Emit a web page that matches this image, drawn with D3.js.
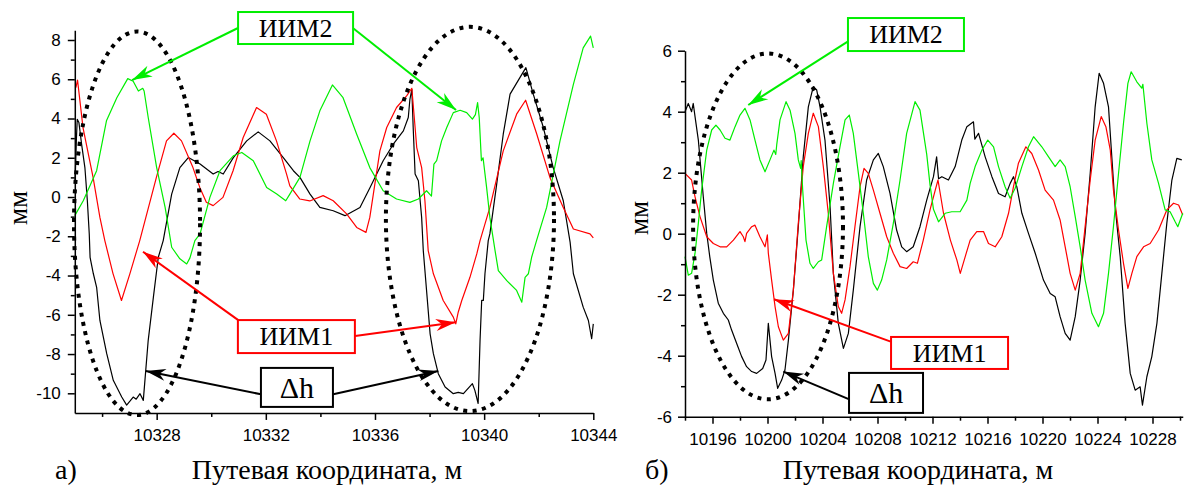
<!DOCTYPE html>
<html>
<head>
<meta charset="utf-8">
<script src="https://cdn.jsdelivr.net/npm/d3@7/dist/d3.min.js"></script>
<style>
  body { margin: 0; background: #fff; }
  svg { display: block; }
  .axis path, .axis line { stroke: #000; stroke-width: 1.5; }
  .axis text { font-family: "Liberation Sans", Arial, sans-serif; font-size: 17px; fill: #000; }
  .serif { font-family: "Liberation Serif", "Times New Roman", serif; fill: #000; }
</style>
</head>
<body>
<svg width="1186" height="486"></svg>
<script>

// ---- panel а) : [x (м), value (мм)] ----
var leftDh = [
  [10325.01, 0.8], [10325.06, 3.0], [10325.09, 3.96], [10325.15, 3.8], [10325.25, 2.68],
  [10325.37, 1.5], [10325.46, -0.19], [10325.53, -1.88], [10325.56, -3.07], [10325.68, -3.91],
  [10325.8, -4.6], [10325.92, -6.29], [10326.17, -7.98], [10326.41, -9.34], [10326.72, -10.19],
  [10326.9, -10.6], [10327.02, -10.4], [10327.14, -10.19], [10327.25, -10.3], [10327.39, -10.02],
  [10327.51, -10.36], [10327.6, -8.83], [10327.69, -7.3], [10327.88, -5.1], [10328.06, -3.07],
  [10328.24, -2.22], [10328.55, 0.15], [10328.85, 1.5], [10329.16, 2.01], [10329.59, 1.68],
  [10330.07, 1.17], [10330.25, 1.3], [10330.44, 1.17], [10330.81, 2.01], [10331.3, 2.86],
  [10331.72, 3.32], [10332.15, 2.86], [10332.64, 2.01], [10333.01, 1.34], [10333.25, 1.0],
  [10333.62, 0.15], [10333.98, -0.53], [10334.47, -0.7], [10334.9, -0.95], [10335.45, -0.53],
  [10335.82, 0.49], [10336.3, 1.85], [10336.67, 2.69], [10337.04, 3.37], [10337.22, 4.05],
  [10337.28, 4.98], [10337.35, 5.49], [10337.4, 3.54], [10337.47, 1.17], [10337.59, 0.83],
  [10337.71, -1.04], [10337.77, -2.73], [10337.89, -4.76], [10338.02, -6.97], [10338.14, -7.98],
  [10338.32, -9.0], [10338.57, -9.68], [10338.87, -10.02], [10339.05, -9.95], [10339.24, -10.02],
  [10339.57, -9.51], [10339.66, -9.85], [10339.78, -10.52], [10339.85, -7.3], [10339.91, -5.27],
  [10339.97, -5.27], [10340.03, -3.91], [10340.15, -2.22], [10340.21, -1.88], [10340.46, 0.66],
  [10340.7, 3.2], [10340.95, 5.24], [10341.31, 6.08], [10341.53, 6.59], [10341.8, 5.24],
  [10342.17, 3.54], [10342.53, 1.5], [10342.9, -0.19], [10343.15, -2.3], [10343.27, -3.91],
  [10343.63, -5.61], [10343.82, -6.29], [10343.94, -7.22], [10344.0, -6.46]
];

var leftImm1 = [
  [10325.04, 5.57], [10325.1, 5.96], [10325.3, 3.54], [10325.67, 1.0], [10325.92, -1.04],
  [10326.1, -2.22], [10326.4, -3.9], [10326.71, -5.27], [10327.02, -3.9], [10327.38, -2.22],
  [10327.99, 1.0], [10328.36, 2.86], [10328.63, 3.25], [10328.91, 2.86], [10329.33, 1.5],
  [10329.58, 0.49], [10329.82, -0.27], [10330.07, -0.44], [10330.43, -0.02], [10330.8, 1.34],
  [10331.17, 3.03], [10331.66, 4.56], [10332.02, 4.22], [10332.39, 2.86], [10332.76, 1.17],
  [10332.88, 0.57], [10333.24, -0.1], [10333.61, -0.2], [10334.1, 0.07], [10334.47, -0.19],
  [10334.96, -0.86], [10335.33, -1.55], [10335.67, -1.8], [10335.81, -1.04], [10335.94, 0.15],
  [10336.18, 2.35], [10336.43, 3.54], [10336.79, 4.56], [10337.16, 5.15], [10337.35, 5.54],
  [10337.47, 3.54], [10337.53, 2.52], [10337.71, 1.5], [10337.83, -0.19], [10337.95, -2.73],
  [10338.14, -3.91], [10338.5, -5.27], [10338.87, -6.12], [10338.96, -6.46], [10339.05, -5.87],
  [10339.18, -5.27], [10339.48, -4.09], [10339.73, -2.9], [10339.85, -2.22], [10340.21, -0.53],
  [10340.7, 2.35], [10341.19, 4.22], [10341.52, 4.93], [10341.93, 3.2], [10342.41, 1.0],
  [10342.9, -0.53], [10343.27, -1.63], [10343.88, -1.88], [10344.0, -2.08]
];

var leftImm2 = [
  [10325.0, -0.95], [10325.31, -0.19], [10325.8, 1.34], [10326.16, 3.88], [10326.54, 5.06],
  [10326.94, 6.03], [10327.14, 5.9], [10327.33, 5.4], [10327.49, 5.54], [10327.54, 5.4],
  [10327.69, 4.05], [10328.0, 1.5], [10328.31, -0.53], [10328.55, -2.56], [10328.85, -3.15],
  [10329.1, -3.41], [10329.22, -3.1], [10329.4, -2.22], [10329.59, -1.88], [10329.95, -0.02],
  [10330.32, 1.34], [10330.81, 2.1], [10331.12, 2.27], [10331.54, 1.85], [10332.03, 0.49],
  [10332.4, 0.15], [10332.73, -0.19], [10332.88, 0.15], [10333.25, 1.0], [10333.62, 2.86],
  [10333.98, 4.39], [10334.44, 5.71], [10334.83, 5.06], [10335.33, 3.2], [10335.81, 1.5],
  [10336.3, 0.32], [10336.79, -0.1], [10337.28, -0.27], [10337.59, -0.1], [10337.89, 0.32],
  [10338.07, 0.05], [10338.16, 1.68], [10338.26, 1.85], [10338.44, 2.86], [10338.63, 3.54],
  [10338.87, 4.3], [10339.12, 4.42], [10339.36, 4.3], [10339.57, 3.97], [10339.68, 4.2],
  [10339.76, 4.81], [10339.82, 4.05], [10339.9, 1.85], [10339.96, 2.0], [10340.09, 0.49],
  [10340.21, -1.04], [10340.4, -2.73], [10340.52, -3.75], [10340.83, -4.26], [10341.19, -4.76],
  [10341.38, -5.36], [10341.5, -4.09], [10341.62, -3.91], [10341.74, -3.07], [10341.92, -2.22],
  [10342.29, -0.53], [10342.78, 2.86], [10343.27, 5.74], [10343.63, 7.6], [10343.9, 8.2],
  [10344.0, 7.6]
];

// ---- panel б) ----
var rightDh = [
  [10194, 4.0], [10194.24, 4.27], [10194.48, 4.0], [10194.6, 4.27], [10194.73, 3.84],
  [10194.97, 3.07], [10195.14, 2.2], [10195.33, 1.21], [10195.58, 0.01], [10195.8, -0.75],
  [10196.06, -1.52], [10196.42, -2.28], [10196.79, -2.61], [10197.15, -2.83], [10197.39, -3.16],
  [10197.76, -3.6], [10198.12, -4.03], [10198.48, -4.36], [10198.85, -4.52], [10199.21, -4.58],
  [10199.65, -4.42], [10199.89, -4.14], [10200.06, -2.94], [10200.18, -3.49], [10200.3, -4.03],
  [10200.55, -4.58], [10200.74, -5.07], [10201.03, -4.8], [10201.27, -4.47], [10201.52, -3.49],
  [10201.88, -1.85], [10202.24, 0.23], [10202.6, 2.52], [10202.97, 4.16], [10203.33, 4.82],
  [10203.58, 4.71], [10203.82, 4.16], [10204.18, 3.07], [10204.55, 0.89], [10204.79, -1.3],
  [10205.15, -2.94], [10205.52, -3.76], [10205.88, -3.27], [10206.24, -1.85], [10206.73, 0.23],
  [10207.21, 1.76], [10207.7, 2.42], [10208.06, 2.63], [10208.42, 2.2], [10208.91, 1.32],
  [10209.39, 0.12], [10209.76, -0.43], [10210.12, -0.59], [10210.6, -0.43], [10211.09, 0.23],
  [10211.58, 1.1], [10212.07, 1.87], [10212.3, 2.52], [10212.44, 1.8], [10212.68, 1.87],
  [10213.16, 1.76], [10213.65, 2.2], [10214.13, 3.07], [10214.5, 3.51], [10214.98, 3.67],
  [10215.08, 3.1], [10215.35, 3.29], [10215.83, 2.52], [10216.32, 1.87], [10216.8, 1.32],
  [10217.28, 1.21], [10217.65, 1.65], [10217.89, 1.87], [10218.13, 1.54], [10218.5, 0.67],
  [10218.98, 0.01], [10219.47, -0.64], [10220.07, -1.52], [10220.56, -1.96], [10220.92, -2.07],
  [10221.28, -2.72], [10221.65, -3.27], [10222.01, -3.49], [10222.38, -2.72], [10222.74, -1.52],
  [10223.1, 0.01], [10223.47, 1.98], [10223.83, 4.16], [10224.12, 5.26], [10224.44, 4.93],
  [10224.8, 4.16], [10225.04, 2.52], [10225.28, 0.89], [10225.65, -0.75], [10226.01, -2.94],
  [10226.38, -4.58], [10226.74, -5.13], [10227.1, -5.02], [10227.27, -5.62], [10227.59, -4.69],
  [10227.95, -4.03], [10228.32, -2.94], [10228.68, -1.3], [10229.04, 0.34], [10229.41, 1.76],
  [10229.77, 2.47], [10230.13, 2.42]
];

var rightImm1 = [
  [10194, 1.98], [10194.48, 1.76], [10194.73, 1.21], [10195.09, 0.56], [10195.58, -0.1],
  [10196.06, -0.32], [10196.55, -0.43], [10197.03, -0.43], [10197.52, -0.21], [10198, 0.07],
  [10198.24, -0.1], [10198.36, -0.26], [10198.48, 0.01], [10198.85, 0.23], [10199.09, 0.28],
  [10199.45, -0.1], [10199.82, -0.43], [10199.99, -0.04], [10200.06, -0.64], [10200.3, -1.52],
  [10200.55, -2.39], [10200.79, -3.05], [10201.15, -3.49], [10201.52, -3.27], [10201.88, -1.85],
  [10202.24, 0.34], [10202.6, 2.2], [10202.97, 3.29], [10203.33, 3.95], [10203.7, 3.51],
  [10204.06, 2.2], [10204.42, 0.67], [10204.79, -1.3], [10205.15, -2.39], [10205.39, -2.61],
  [10205.64, -2.17], [10206, -1.08], [10206.36, 0.23], [10206.73, 1.54], [10207.02, 2.14],
  [10207.33, 1.98], [10207.7, 1.43], [10208.18, 0.67], [10208.67, -0.1], [10209.15, -0.64],
  [10209.64, -1.08], [10210.12, -1.14], [10210.6, -0.92], [10210.9, -0.97], [10211.33, -0.21],
  [10211.82, 0.78], [10212.2, 1.43], [10212.4, 1.76], [10212.8, 0.67], [10213.3, -0.21],
  [10213.77, -0.86], [10214.02, -1.3], [10214.38, -0.75], [10214.74, -0.21], [10215.22, 0.07],
  [10215.71, 0.07], [10216.07, -0.32], [10216.56, -0.43], [10217.04, -0.1], [10217.53, 0.67],
  [10217.89, 1.54], [10218.25, 2.31], [10218.79, 2.85], [10219.22, 2.63], [10219.71, 2.09],
  [10220.19, 1.43], [10220.8, 1.1], [10221.28, 0.45], [10221.65, -0.43], [10222.01, -1.3],
  [10222.38, -1.85], [10222.74, -1.3], [10223.1, 0.23], [10223.47, 1.76], [10223.83, 3.07],
  [10224.27, 3.84], [10224.61, 3.51], [10224.93, 2.74], [10225.16, 1.43], [10225.53, 0.12],
  [10225.89, -0.97], [10226.21, -1.79], [10226.5, -1.3], [10226.86, -0.75], [10227.35, -0.43],
  [10227.83, -0.32], [10228.44, 0.12], [10229.04, 0.78], [10229.53, 1.0], [10229.9, 0.94],
  [10230.2, 0.61]
];

var rightImm2 = [
  [10194, -0.75], [10194.24, -1.36], [10194.48, -1.3], [10194.73, -0.64], [10194.97, 0.34],
  [10195.21, 1.43], [10195.58, 2.74], [10195.94, 3.4], [10196.25, 3.56], [10196.55, 3.4],
  [10196.91, 3.13], [10197.27, 3.07], [10197.64, 3.51], [10198, 3.89], [10198.36, 4.11],
  [10198.73, 3.73], [10199.09, 3.07], [10199.45, 2.42], [10199.82, 2.03], [10200.18, 2.42],
  [10200.47, 2.74], [10200.6, 2.6], [10200.67, 2.91], [10200.91, 3.73], [10201.35, 4.33],
  [10201.64, 4.05], [10202, 3.29], [10202.24, 2.42], [10202.41, 2.14], [10202.45, 2.4],
  [10202.56, 1.43], [10202.8, -0.21], [10203.09, -0.97], [10203.33, -1.14], [10203.7, -0.92],
  [10203.94, -0.86], [10204.3, 0.23], [10204.79, 1.65], [10205.27, 2.85], [10205.64, 3.73],
  [10205.95, 3.89], [10206.24, 3.29], [10206.61, 1.98], [10206.97, 0.67], [10207.33, -0.75],
  [10207.7, -1.63], [10207.99, -1.85], [10208.3, -1.52], [10208.67, -0.86], [10209.15, 0.34],
  [10209.64, 1.76], [10210.12, 3.29], [10210.73, 4.33], [10211.09, 4.05], [10211.58, 2.6],
  [10211.82, 1.6], [10212.07, 0.8], [10212.44, 0.39], [10212.92, 0.67], [10213.4, 0.72],
  [10214.01, 0.72], [10214.5, 1.1], [10214.74, 1.65], [10215.1, 2.2], [10215.59, 2.74],
  [10216.02, 3.07], [10216.44, 2.85], [10216.8, 2.2], [10217.28, 1.54], [10217.65, 1.16],
  [10218.01, 1.49], [10218.5, 2.2], [10218.98, 2.85], [10219.35, 3.18], [10219.95, 2.85],
  [10220.44, 2.52], [10220.92, 2.2], [10221.28, 2.42], [10221.65, 2.2], [10222.01, 1.54],
  [10222.38, 0.56], [10222.74, -0.43], [10223.1, -1.52], [10223.59, -2.61], [10224.07, -3.05],
  [10224.44, -2.61], [10224.8, -1.3], [10225.16, 0.23], [10225.53, 1.98], [10225.89, 3.62],
  [10226.21, 4.93], [10226.45, 5.31], [10226.86, 4.98], [10227.22, 4.77], [10227.3, 4.9],
  [10227.59, 3.62], [10227.95, 2.42], [10228.44, 1.65], [10228.92, 0.78], [10229.28, 0.72],
  [10229.65, 0.39], [10229.84, 0.23], [10230.2, 0.67]
];

// ---- tick values ----
var leftXMajor = [10328, 10332, 10336, 10340, 10344],
    leftXMinor = [10326, 10330, 10334, 10338, 10342],
    leftYMajor = [-10, -8, -6, -4, -2, 0, 2, 4, 6, 8],
    leftYMinor = [-9, -7, -5, -3, -1, 1, 3, 5, 7];

var rightXMajor = [10196, 10200, 10204, 10208, 10212, 10216, 10220, 10224, 10228],
    rightXMinor = [10194, 10198, 10202, 10206, 10210, 10214, 10218, 10222, 10226, 10230],
    rightYMajor = [-6, -4, -2, 0, 2, 4, 6],
    rightYMinor = [-5, -3, -1, 1, 3, 5];

// ---- annotations (data units) ----
var leftEllipses = [
  {cx: 10327.28, cy: -1.34, rx: 2.31, ry: 9.77},
  {cx: 10339.48, cy: -1.12, rx: 3.08, ry: 9.79}
];
var leftBoxes = [
  {text: "ИИМ2", cx: 10333.09, cy: 8.61, w: 115, h: 32, color: "#00ee00", size: 26},
  {text: "ИИМ1", cx: 10333.12, cy: -7.11, w: 117, h: 33, color: "#ff0000", size: 26},
  {text: "Δh", cx: 10333.14, cy: -9.70, w: 72, h: 39, color: "#000", size: 30}
];
var leftArrows = [
  {from: [10330.98, 8.61], to: [10327.10, 5.96], color: "#00ee00"},
  {from: [10335.19, 8.61], to: [10338.97, 4.43], color: "#00ee00"},
  {from: [10330.99, -6.27], to: [10327.50, -2.79], color: "#ff0000"},
  {from: [10335.27, -7.08], to: [10338.96, -6.38], color: "#ff0000"},
  {from: [10331.82, -10.05], to: [10327.60, -8.86], color: "#000"},
  {from: [10334.47, -10.05], to: [10338.32, -8.86], color: "#000"}
];

var rightEllipses = [
  {cx: 10200.04, cy: 0.24, rx: 5.45, ry: 5.67}
];
var rightBoxes = [
  {text: "ИИМ2", cx: 10210.07, cy: 6.53, w: 116, h: 33, color: "#00ee00", size: 26},
  {text: "ИИМ1", cx: 10213.24, cy: -3.91, w: 117, h: 32, color: "#ff0000", size: 26},
  {text: "Δh", cx: 10208.62, cy: -5.22, w: 74, h: 40, color: "#000", size: 30}
];
var rightArrows = [
  {from: [10205.83, 6.30], to: [10198.60, 4.22], color: "#00ee00"},
  {from: [10208.96, -3.54], to: [10200.47, -2.15], color: "#ff0000"},
  {from: [10205.95, -5.43], to: [10201.15, -4.52], color: "#000"}
];

var svg = d3.select("svg");
var defs = svg.append("defs");

// arrow heads
[["g", "#00ee00"], ["r", "#ff0000"], ["k", "#000"]].forEach(function(m) {
  defs.append("marker")
      .attr("id", "head-" + m[0])
      .attr("viewBox", "-22 -8 24 16")
      .attr("refX", 0)
      .attr("refY", 0)
      .attr("markerWidth", 24)
      .attr("markerHeight", 16)
      .attr("markerUnits", "userSpaceOnUse")
      .attr("orient", "auto")
    .append("path")
      .attr("d", "M0,0L-20,-6L-14,0L-20,6Z")
      .attr("fill", m[1]);
});
function headId(color) {
  return color === "#000" ? "head-k" : (color === "#ff0000" ? "head-r" : "head-g");
}

var panels = [
  {
    xDomain: [10325, 10344], xRange: [74.8, 593.3],
    yDomain: [-11, 8.5], yRange: [412.93, 30.18],
    xMajor: leftXMajor, xMinor: leftXMinor, yMajor: leftYMajor, yMinor: leftYMinor,
    series: [[leftDh, "#000"], [leftImm1, "#ff0000"], [leftImm2, "#00ee00"]],
    ellipses: leftEllipses, boxes: leftBoxes, arrows: leftArrows,
    yPad: 7, yLabel: [19, 208], letter: "а)", letterX: 55, titleX: 327
  },
  {
    xDomain: [10194, 10230.2], xRange: [685, 1182.75],
    yDomain: [-6, 6], yRange: [416.7, 50.7],
    xMajor: rightXMajor, xMinor: rightXMinor, yMajor: rightYMajor, yMinor: rightYMinor,
    series: [[rightDh, "#000"], [rightImm1, "#ff0000"], [rightImm2, "#00ee00"]],
    ellipses: rightEllipses, boxes: rightBoxes, arrows: rightArrows,
    yPad: 6, yLabel: [640, 218], letter: "б)", letterX: 645, titleX: 918
  }
];

panels.forEach(function(p) {
  var x = d3.scaleLinear().domain(p.xDomain).range(p.xRange),
      y = d3.scaleLinear().domain(p.yDomain).range(p.yRange);
  var g = svg.append("g");
  var y0 = p.yRange[0], x0 = p.xRange[0];

  var line = d3.line()
      .x(function(d) { return x(d[0]); })
      .y(function(d) { return y(d[1]); });

  p.series.forEach(function(s) {
    g.append("path")
        .datum(s[0])
        .attr("fill", "none")
        .attr("stroke", s[1])
        .attr("stroke-width", 1.2)
        .attr("stroke-linejoin", "round")
        .attr("d", line);
  });

  // axes: major + minor ticks
  g.append("g")
      .attr("class", "axis")
      .attr("transform", "translate(0," + y0 + ")")
      .call(d3.axisBottom(x).tickValues(p.xMinor).tickSize(4).tickFormat("").tickSizeOuter(0))
      .select(".domain").remove();
  g.append("g")
      .attr("class", "axis")
      .attr("transform", "translate(" + x0 + ",0)")
      .call(d3.axisLeft(y).tickValues(p.yMinor).tickSize(4).tickFormat("").tickSizeOuter(0))
      .select(".domain").remove();
  g.append("g")
      .attr("class", "axis")
      .attr("transform", "translate(0," + y0 + ")")
      .call(d3.axisBottom(x).tickValues(p.xMajor).tickSize(7).tickPadding(9).tickSizeOuter(0)
        .tickFormat(d3.format("d")));
  g.append("g")
      .attr("class", "axis")
      .attr("transform", "translate(" + x0 + ",0)")
      .call(d3.axisLeft(y).tickValues(p.yMajor).tickSize(7).tickPadding(p.yPad).tickSizeOuter(0)
        .tickFormat(d3.format("d")));
  g.selectAll(".axis text").text(function() { return this.textContent.replace("−", "-"); });

  // dotted ellipses
  g.selectAll(".ring")
    .data(p.ellipses)
    .enter().append("ellipse")
      .attr("cx", function(d) { return x(d.cx); })
      .attr("cy", function(d) { return y(d.cy); })
      .attr("rx", function(d) { return x(d.cx + d.rx) - x(d.cx); })
      .attr("ry", function(d) { return y(d.cy - d.ry) - y(d.cy); })
      .attr("fill", "none")
      .attr("stroke", "#000")
      .attr("stroke-width", 4)
      .attr("stroke-dasharray", "4 5.5");

  // arrows
  g.selectAll(".arrow")
    .data(p.arrows)
    .enter().append("line")
      .attr("x1", function(d) { return x(d.from[0]); })
      .attr("y1", function(d) { return y(d.from[1]); })
      .attr("x2", function(d) { return x(d.to[0]); })
      .attr("y2", function(d) { return y(d.to[1]); })
      .attr("stroke", function(d) { return d.color; })
      .attr("stroke-width", 2)
      .attr("marker-end", function(d) { return "url(#" + headId(d.color) + ")"; });

  // label boxes
  var box = g.selectAll(".box")
    .data(p.boxes)
    .enter().append("g")
      .attr("transform", function(d) { return "translate(" + x(d.cx) + "," + y(d.cy) + ")"; });
  box.append("rect")
      .attr("x", function(d) { return -d.w / 2; })
      .attr("y", function(d) { return -d.h / 2; })
      .attr("width", function(d) { return d.w; })
      .attr("height", function(d) { return d.h; })
      .attr("fill", "#fff")
      .attr("stroke", function(d) { return d.color; })
      .attr("stroke-width", 2);
  box.append("text")
      .attr("class", "serif")
      .attr("text-anchor", "middle")
      .attr("dy", "0.34em")
      .style("font-size", function(d) { return d.size + "px"; })
      .text(function(d) { return d.text; });

  // axis titles
  g.append("text")
      .attr("class", "serif")
      .attr("transform", "translate(" + p.yLabel[0] + "," + p.yLabel[1] + ") rotate(-90)")
      .attr("text-anchor", "middle")
      .attr("dy", "0.3em")
      .style("font-size", "27px")
      .text("мм");
  g.append("text")
      .attr("class", "serif")
      .attr("x", p.letterX)
      .attr("y", 479)
      .style("font-size", "28px")
      .text(p.letter);
  g.append("text")
      .attr("class", "serif")
      .attr("x", p.titleX)
      .attr("y", 479)
      .attr("text-anchor", "middle")
      .style("font-size", "28px")
      .text("Путевая координата, м");
});

</script>
</body>
</html>
